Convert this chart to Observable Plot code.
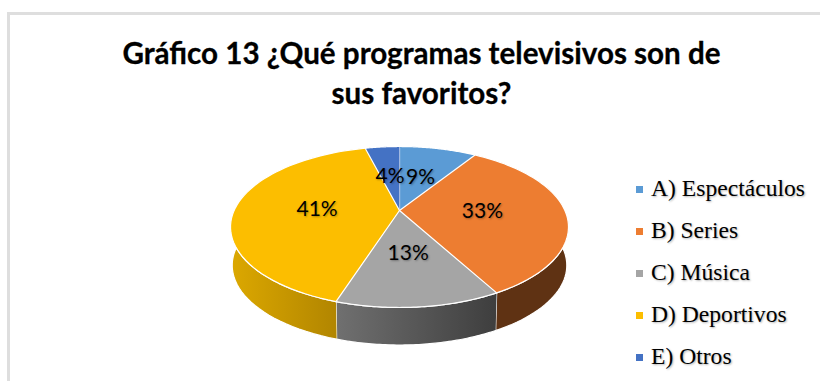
<!DOCTYPE html>
<html lang="es">
<head>
<meta charset="utf-8">
<script src="https://cdn.jsdelivr.net/npm/d3@7"></script>
<script src="https://cdn.jsdelivr.net/npm/@observablehq/plot@0.6"></script>
<style>
  html, body { margin: 0; padding: 0; background: #fff; }
  #frame { position: relative; width: 820px; height: 381px; overflow: hidden; }
  #border { position: absolute; left: 7px; top: 12px; width: 813px; height: 369px; box-sizing: border-box;
            border-left: 3px solid #dedede; border-top: 3px solid #dedede; }
  #title { position: absolute; left: 121px; top: 33px; width: 601px; display: flex; flex-direction: column; align-items: center;
           font: 700 29.6px/40px Lato, sans-serif; color: #000; -webkit-text-stroke: 0.3px #000; }
  #chart { position: absolute; left: 0; top: 120px; }
  #chart text { text-shadow: 1px 1px 2px rgba(0,0,0,.3); }
  #legend { position: absolute; left: 636px; top: 167px; font: 23.6px "Liberation Serif", serif; color: #000; }
  #legend div { height: 42px; line-height: 42px; white-space: nowrap; text-shadow: 1px 1px 2px rgba(0,0,0,.3); }
  #legend i { display: inline-block; width: 7px; height: 7px; margin-right: 8px; vertical-align: 3px; }
</style>
</head>
<body>
<div id="frame">
  <div id="border"></div>
  <div id="title"></div>
  <div id="chart"></div>
  <div id="legend"></div>
</div>
<script>
const titleLines = ["Gráfico 13 ¿Qué programas televisivos son de", "sus favoritos?"];
const categories = ["A) Espectáculos", "B) Series", "C) Música", "D) Deportivos", "E) Otros"];
const values = [9, 33, 13, 41, 4];
const colors = ["#5b9bd5", "#ed7d31", "#a5a5a5", "#fcbe00", "#4472c4"];
const wallStops = [
  ["#3a6f9c", "#3a6f9c"],
  ["#5f3213", "#5f3213"],
  ["#707070", "#3e3e3e"],
  ["#dca800", "#a67c00"],
  ["#2a4a80", "#2a4a80"]
];

// Perspective tilt of the disc, its radii on screen and the rim height
const tilt = 0.205, radiusX = 165.4, radiusY = 77.1, rim = 38.5, rimScale = 0.99;

function project(turn, r = 1) {
  const a = 2 * Math.PI * turn;
  const u = r * Math.sin(a), v = -r * Math.cos(a);
  const w = 1 - tilt * v;
  return [radiusX * u / w, radiusY * v / w];
}

const total = d3.sum(values);
const slices = [];
categories.reduce((start, name, i) => {
  const end = start + values[i] / total;
  slices.push({name, i, start, end, value: values[i]});
  return end;
}, 0);

function arc(s, steps = 60) {
  return d3.range(steps + 1).map(k => s.start + (s.end - s.start) * k / steps);
}

const tops = slices.flatMap(s => {
  const rimPts = arc(s).map(t => project(t));
  return [[0, 0], ...rimPts].map(([x, y]) => ({x, y, name: s.name, fill: colors[s.i]}));
});

const walls = slices.flatMap(s => {
  const upper = arc(s).map(t => project(t));
  const lower = upper.map(([x, y]) => [x * rimScale, y * rimScale + rim]).reverse();
  return [...upper, ...lower].map(([x, y]) => ({x, y, name: s.name, fill: `url(#wall${s.i})`}));
});

const labels = slices.map(s => {
  const [x, y] = project((s.start + s.end) / 2, 0.5);
  return {x, y, text: `${s.value}%`};
});

const plot = Plot.plot({
  width: 620,
  height: 261,
  margin: 0,
  x: {domain: [-399, 221], range: [0, 620], axis: null},
  y: {domain: [-90, 171], range: [0, 261], axis: null},
  color: {type: "identity"},
  marks: [
    // Gradients for the rim of each slice
    () => {
      const svg = d3.create("svg:g");
      const defs = svg.append("defs");
      wallStops.forEach(([a, b], i) => {
        const g = defs.append("linearGradient").attr("id", `wall${i}`);
        g.append("stop").attr("offset", "0").attr("stop-color", a);
        g.append("stop").attr("offset", "1").attr("stop-color", b);
      });
      return svg.node();
    },
    Plot.line(walls, {x: "x", y: "y", z: "name", fill: "fill", stroke: "#fff", strokeWidth: 1.2, strokeLinejoin: "round"}),
    Plot.line(tops, {x: "x", y: "y", z: "name", fill: "fill", stroke: "#fff", strokeWidth: 1.2, strokeLinejoin: "round"}),
    Plot.text(labels, {x: "x", y: "y", text: "text", fontSize: 21, fontFamily: "Lato, sans-serif", fill: "#000"})
  ]
});
document.getElementById("chart").append(plot);

const title = document.getElementById("title");
titleLines.forEach(line => {
  const d = document.createElement("div");
  d.style.whiteSpace = "nowrap";
  d.textContent = line;
  title.append(d);
});

const legend = document.getElementById("legend");
categories.forEach((name, i) => {
  const row = document.createElement("div");
  const key = document.createElement("i");
  key.style.background = colors[i];
  row.append(key, name);
  legend.append(row);
});
</script>
</body>
</html>
